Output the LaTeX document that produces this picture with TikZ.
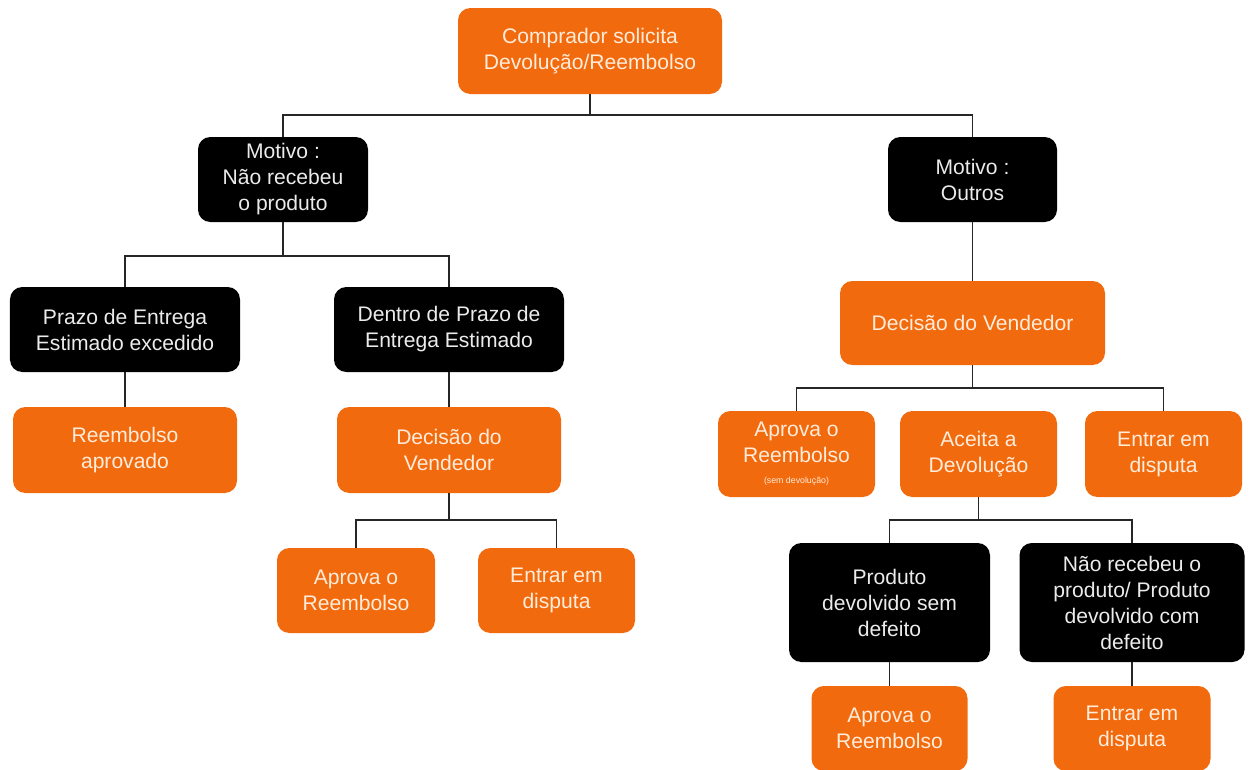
\documentclass[tikz,border=0pt]{standalone}
\usepackage{fontspec}
\setmainfont{Liberation Sans}
\definecolor{boxorange}{RGB}{242,106,14}
\definecolor{boxtext}{RGB}{255,236,218}
\tikzset{
  box/.style={rounded corners=7pt, align=center, inner sep=2pt,
    font=\fontsize{12}{14.8}\selectfont},
  orangebox/.style={box, fill=boxorange, text=boxtext},
  blackbox/.style={box, fill=black, text=white!92!black},
  link/.style={draw=black!85, line width=1.1pt}
}
\begin{document}
\begin{tikzpicture}
  \useasboundingbox (0,0) rectangle (25,-15.38);

  % topo
  \node[orangebox, minimum width=5.28cm, minimum height=1.72cm] (top) at (11.8,-1.02) {Comprador solicita\\Devolução/Reembolso};

  % motivos
  \node[blackbox, minimum width=3.4cm, minimum height=1.7cm] (mot1) at (5.66,-3.59) {Motivo :\\Não recebeu\\o produto};
  \node[blackbox, minimum width=3.38cm, minimum height=1.7cm] (mot2) at (19.45,-3.59) {Motivo :\\Outros};

  % ramo esquerdo
  \node[blackbox, minimum width=4.6cm, minimum height=1.7cm] (prazo) at (2.5,-6.59) {Prazo de Entrega\\Estimado excedido};
  \node[blackbox, minimum width=4.6cm, minimum height=1.7cm] (dentro) at (8.98,-6.59) {Dentro de Prazo de\\Entrega Estimado};
  \node[orangebox, minimum width=4.48cm, minimum height=1.72cm] (reemb) at (2.5,-9.0) {Reembolso\\aprovado};
  \node[orangebox, minimum width=4.48cm, minimum height=1.72cm] (decM) at (8.98,-9.0) {Decisão do\\Vendedor};
  \node[orangebox, minimum width=3.16cm, minimum height=1.7cm] (aprM) at (7.12,-11.81) {Aprova o\\Reembolso};
  \node[orangebox, minimum width=3.14cm, minimum height=1.7cm] (dispM) at (11.13,-11.81) {Entrar em\\disputa};

  % ramo direito
  \node[orangebox, minimum width=5.3cm, minimum height=1.68cm] (decR) at (19.45,-6.46) {Decisão do Vendedor};
  \node[orangebox, minimum width=3.14cm, minimum height=1.72cm] (aprR) at (15.93,-9.08) {Aprova o\\Reembolso\\[-3pt]{\fontsize{5}{6}\selectfont (sem devolução)}};
  \node[orangebox, minimum width=3.14cm, minimum height=1.72cm] (aceita) at (19.57,-9.08) {Aceita a\\Devolução};
  \node[orangebox, minimum width=3.14cm, minimum height=1.72cm] (dispR) at (23.27,-9.08) {Entrar em\\disputa};
  \node[blackbox, minimum width=4.02cm, minimum height=2.38cm] (prod) at (17.79,-12.05) {Produto\\devolvido sem\\defeito};
  \node[blackbox, minimum width=4.5cm, minimum height=2.38cm] (naorec) at (22.64,-12.05) {Não recebeu o\\produto/ Produto\\devolvido com\\defeito};
  \node[orangebox, minimum width=3.12cm, minimum height=1.7cm] (aprB) at (17.79,-14.57) {Aprova o\\Reembolso};
  \node[orangebox, minimum width=3.14cm, minimum height=1.7cm] (dispB) at (22.64,-14.57) {Entrar em\\disputa};

  % barramentos
  \coordinate (bus1) at (11.8,-2.3);
  \coordinate (bus2) at (5.66,-5.12);
  \coordinate (bus3) at (8.98,-10.4);
  \coordinate (bus4) at (19.45,-7.76);
  \coordinate (bus5) at (19.57,-10.4);

  % ligacoes
  \draw[link] (top) -- (bus1);
  \draw[link] (mot1) |- (bus1) -| (mot2);
  \draw[link] (mot1) -- (bus2);
  \draw[link] (prazo) |- (bus2) -| (dentro);
  \draw[link] (prazo) -- (reemb);
  \draw[link] (dentro) -- (decM);
  \draw[link] (decM) -- (bus3);
  \draw[link] (aprM) |- (bus3) -| (dispM);
  \draw[link] (mot2) -- (decR);
  \draw[link] (decR) -- (bus4);
  \draw[link] (aprR) |- (bus4) -| (dispR);
  \draw[link] (aceita) -- (bus5);
  \draw[link] (prod) |- (bus5) -| (naorec);
  \draw[link] (prod) -- (aprB);
  \draw[link] (naorec) -- (dispB);
\end{tikzpicture}
\end{document}
